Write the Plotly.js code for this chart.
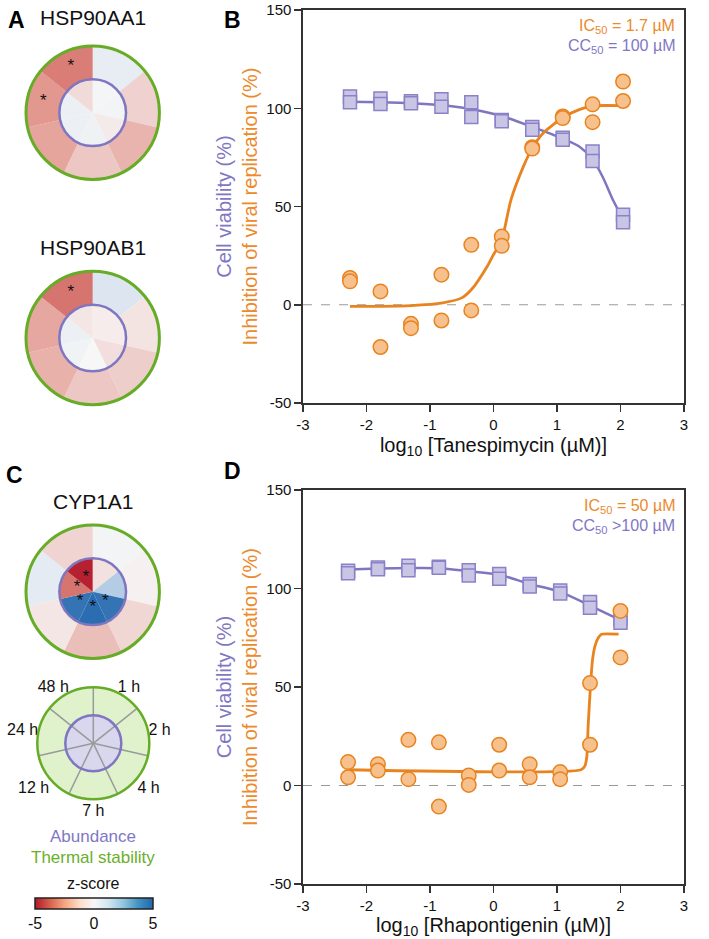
<!DOCTYPE html>
<html><head><meta charset="utf-8">
<script src="https://cdn.plot.ly/plotly-3.0.1.min.js"></script>
<style>html,body{margin:0;padding:0;background:#fff}#chart{width:709px;height:939px}</style>
</head><body><div id="chart"></div>
<script>
// ---------- DATA ----------
const timepoints = ['1 h','2 h','4 h','7 h','12 h','24 h','48 h'];

const hsp90aa1Thermal   = [0.45, -0.85, -1.55, -1.1, -1.9, -2.2, -2.8];
const hsp90aa1Abundance = [0.1, 0.15, -0.3, 0.25, 0.3, 0.3, -0.65];
const hsp90aa1ThermalSig = ['24 h','48 h'];
const hsp90aa1AbundanceSig = [];

const hsp90ab1Thermal   = [0.75, -0.45, -0.95, -1.1, -1.6, -1.85, -3.0];
const hsp90ab1Abundance = [-0.25, -0.25, -0.55, 0.0, 0.2, 0.3, -0.4];
const hsp90ab1ThermalSig = ['48 h'];
const hsp90ab1AbundanceSig = [];

const cyp1a1Thermal   = [0.15, -0.15, -0.75, -1.3, -0.4, 0.55, -0.8];
const cyp1a1Abundance = [-0.5, 1.9, 4.6, 4.8, 4.6, -3.0, -4.8];
const cyp1a1ThermalSig = [];
const cyp1a1AbundanceSig = ['4 h','7 h','12 h','24 h','48 h'];

const zScoreTicks = [-5, 0, 5];
const zScoreTickLabels = ['-5', '0', '5'];

// Panel B: Tanespimycin
const tanLogConc = [-2.26, -1.78, -1.30, -0.82, -0.35, 0.13, 0.61, 1.09, 1.56, 2.04];
const tanViabilityRep1 = [106, 105, 103.5, 104.6, 103, 94, 90.5, 85, 78, 45.8];
const tanViabilityRep2 = [103, 102.2, 102.5, 100.8, 95.5, 93.4, 89, 84, 73.2, 42];
const tanInhibitionRep1 = [13.6, 6.8, -9.7, 15.3, 30.5, 34.7, 80.2, 95.8, 102, 113.6];
const tanInhibitionRep2 = [11.9, -21.5, -11.9, -8.0, -2.9, 30.0, 79.5, 95.0, 92.9, 103.7];
const tanViabilityFitX = [-2.26, -1.78, -1.30, -0.82, -0.35, 0.13, 0.61, 1.09, 1.35, 1.56, 1.72, 1.88, 2.04];
const tanViabilityFitY = [103.3, 103.0, 102.5, 101.5, 99.5, 96, 90.5, 84.5, 80.5, 74, 65, 53.4, 43.5];
const tanInhibitionFitX = [-2.26, -1.8, -1.3, -0.8, -0.5, -0.34, -0.1, 0.0, 0.13, 0.275, 0.47, 0.61, 0.78, 1.10, 1.35, 1.57, 2.04];
const tanInhibitionFitY = [-0.8, -0.8, -0.4, 1.0, 3.5, 8, 19.5, 25.5, 33, 53.4, 70.3, 79.7, 87.3, 95.4, 99.3, 101.2, 101.3];

// Panel D: Rhapontigenin
const rhaLogConc = [-2.29, -1.82, -1.34, -0.86, -0.39, 0.09, 0.57, 1.05, 1.52, 2.00];
const rhaViabilityRep1 = [109, 110.6, 111.6, 111, 109.3, 107.4, 102.3, 99, 93.1, 84.6];
const rhaViabilityRep2 = [107.8, 109.8, 109.3, 110.5, 106.6, 104.9, 101, 97.5, 90.2, 82.6];
const rhaInhibitionRep1 = [11.9, 10.8, 23.2, 21.9, 5.1, 20.7, 10.8, 6.8, 52, 88.6];
const rhaInhibitionRep2 = [4.2, 7.6, 3.2, -10.7, 0.3, 7.6, 4.2, 3.2, 20.7, 65];
const rhaViabilityFitX = [-2.29, -1.82, -1.34, -0.86, -0.39, 0.09, 0.57, 1.05, 1.52, 2.00];
const rhaViabilityFitY = [109.6, 110.1, 110.4, 110.3, 108.8, 107, 102.3, 98.3, 91.3, 84];
const rhaInhibitionFitX = [-2.29, 1.38, 1.44, 1.47, 1.49, 1.53, 1.56, 1.60, 1.65, 1.70, 1.97];
const rhaInhibitionFitY = [8, 8, 10, 14.7, 30, 52, 64, 71, 75, 76.8, 76.8];

const xTicks = [-3, -2, -1, 0, 1, 2, 3];
const xTickLabels = ['-3', '-2', '-1', '0', '1', '2', '3'];
const yTicks = [-50, 0, 50, 100, 150];
const yTickLabels = ['-50', '0', '50', '100', '150'];

// ---------- STYLE ----------
const W = 709, H = 939;
const FONT = 'Liberation Sans, Arial, Helvetica, sans-serif';
const ORANGE = '#E8831F', ORANGE_FILL = '#F6C18C', ORANGE_TXT = '#EC8A2C';
const PURPLE = '#7F76C2', PURPLE_FILL = '#C9C5E4', PURPLE_LINE = '#8A81C8', PURPLE_TXT = '#7F77C4';
const GREEN = '#66AC26', GREEN_TXT = '#6AAF2C';
const RDBU = [[0,'#b2182b'],[0.125,'#d6604d'],[0.25,'#f4a582'],[0.375,'#fddbc7'],[0.5,'#f7f7f7'],
              [0.625,'#d1e5f0'],[0.75,'#92c5de'],[0.875,'#4393c3'],[1,'#2166ac']];
const DONUT_SCALE = [[0,'#b2182b'],[0.25,'#df8b80'],[0.5,'#f7f7f7'],[0.75,'#9fc0df'],[1,'#2166ac']];
const px = x => x / W;
const py = y => 1 - y / H;

const traces = [];
const layout = {
  width: W, height: H, margin: {l:0, r:0, t:0, b:0},
  paper_bgcolor: '#fff', plot_bgcolor: '#fff',
  font: {family: FONT, color: '#111', size: 15},
  showlegend: false, annotations: [], shapes: []
};

// ---------- DONUTS ----------
function domainFor(cx, cy, r) {
  return {x: [px(cx - r), px(cx + r)], y: [py(cy + r), py(cy - r)]};
}
const angCat = {type: 'category', categoryorder: 'array', categoryarray: timepoints,
  rotation: 90 - 180 / timepoints.length, direction: 'clockwise'};

function addDonut(baseId, ovId, cx, cy, r, thermal, abundance, thermalSig, abundanceSig) {
  const dom = domainFor(cx, cy, r);
  layout[baseId] = {
    domain: dom, bgcolor: '#fff', bargap: 0,
    radialaxis: {range: [0, 1], visible: false},
    angularaxis: Object.assign({}, angCat, {showgrid: false, showticklabels: false, ticks: '',
      showline: true, linecolor: GREEN, linewidth: 3})
  };
  layout[ovId] = {
    domain: dom, bgcolor: 'rgba(0,0,0,0)', bargap: 0,
    radialaxis: {range: [0, 1], tickvals: [0.5], showgrid: true, gridcolor: PURPLE, gridwidth: 2.5,
      showline: false, showticklabels: false, ticks: ''},
    angularaxis: Object.assign({}, angCat, {showgrid: false, showticklabels: false, ticks: '', showline: false})
  };
  const mk = vals => ({color: vals, colorscale: DONUT_SCALE, cmin: -5, cmax: 5, line: {width: 0}});
  traces.push({type: 'barpolar', subplot: baseId, theta: timepoints, r: timepoints.map(() => 0.5),
    base: timepoints.map(() => 0.5), marker: mk(thermal), hoverinfo: 'skip'});
  traces.push({type: 'barpolar', subplot: baseId, theta: timepoints, r: timepoints.map(() => 0.5),
    base: timepoints.map(() => 0), marker: mk(abundance), hoverinfo: 'skip'});
  // significance stars
  const starTheta = thermalSig.concat(abundanceSig);
  const starR = thermalSig.map(() => 0.76).concat(abundanceSig.map(() => 0.24));
  traces.push({type: 'scatterpolar', subplot: ovId, mode: 'text', theta: starTheta,
    r: starR, text: starTheta.map(() => '*'),
    textfont: {size: 17, color: '#111'}, textposition: 'middle center', cliponaxis: false, hoverinfo: 'skip'});
}

addDonut('polar', 'polar2', 92.7, 112.7, 66.7, hsp90aa1Thermal, hsp90aa1Abundance, hsp90aa1ThermalSig, hsp90aa1AbundanceSig);
addDonut('polar3', 'polar4', 92.7, 338.0, 66.7, hsp90ab1Thermal, hsp90ab1Abundance, hsp90ab1ThermalSig, hsp90ab1AbundanceSig);
addDonut('polar5', 'polar6', 92.7, 591.7, 66.7, cyp1a1Thermal, cyp1a1Abundance, cyp1a1ThermalSig, cyp1a1AbundanceSig);

// ---------- KEY DIAGRAM ----------
const keyDom = domainFor(93.3, 743.3, 56);
layout.polar7 = {
  domain: keyDom, bgcolor: '#DFF2CC', bargap: 0,
  radialaxis: {range: [0, 1], visible: false},
  angularaxis: Object.assign({}, angCat, {showgrid: false, showline: false, ticks: '', showticklabels: true,
    tickfont: {size: 16, color: '#111'}})
};
layout.polar8 = {
  domain: keyDom, bgcolor: 'rgba(0,0,0,0)',
  radialaxis: {range: [0, 1], tickvals: [0.5], showgrid: true, gridcolor: PURPLE, gridwidth: 2.5,
    showline: false, showticklabels: false, ticks: ''},
  angularaxis: {type: 'linear', rotation: 90, direction: 'clockwise', tickmode: 'linear', tick0: 0,
    dtick: 360 / timepoints.length, showgrid: true, gridcolor: '#9a9a9a', gridwidth: 1.5,
    showticklabels: false, ticks: '', showline: true, linecolor: GREEN, linewidth: 2.5}
};
traces.push({type: 'barpolar', subplot: 'polar7', theta: timepoints, r: timepoints.map(() => 0.5),
  marker: {color: '#D8D7EE', line: {width: 0}}, hoverinfo: 'skip'});
// carrier of the z-score colour bar (invisible marker)
traces.push({type: 'scatterpolar', subplot: 'polar8', mode: 'markers', r: [0], theta: [0],
  marker: {opacity: 0, size: 1, color: [0], colorscale: RDBU, cmin: -5, cmax: 5, showscale: true,
    colorbar: {orientation: 'h', x: px(94), xanchor: 'center', y: py(897.5), yanchor: 'top',
      lenmode: 'pixels', len: 118, thicknessmode: 'pixels', thickness: 11,
      xpad: 0, ypad: 0, outlinewidth: 1.5, outlinecolor: '#222', ticks: '',
      tickmode: 'array', tickvals: zScoreTicks, ticktext: zScoreTickLabels,
      tickfont: {size: 16, color: '#111'}, ticklabelposition: 'outside bottom'}},
  hoverinfo: 'skip'});

// ---------- DOSE RESPONSE ----------
function addDose(xa, ya, logc, v1, v2, i1, i2, vfx, vfy, ifx, ify) {
  traces.push({type: 'scatter', xaxis: xa, yaxis: ya, x: vfx, y: vfy, mode: 'lines',
    line: {color: PURPLE, width: 2.5, shape: 'spline', smoothing: 0.8}, hoverinfo: 'skip'});
  [v1, v2].forEach(v => traces.push({type: 'scatter', xaxis: xa, yaxis: ya, x: logc, y: v, mode: 'markers',
    marker: {symbol: 'square', size: 13, color: PURPLE_FILL, line: {color: PURPLE_LINE, width: 1.5}}, hoverinfo: 'skip'}));
  traces.push({type: 'scatter', xaxis: xa, yaxis: ya, x: ifx, y: ify, mode: 'lines',
    line: {color: ORANGE, width: 2.8, shape: 'spline', smoothing: 0.6}, hoverinfo: 'skip'});
  [i1, i2].forEach(v => traces.push({type: 'scatter', xaxis: xa, yaxis: ya, x: logc, y: v, mode: 'markers',
    marker: {symbol: 'circle', size: 14.5, color: ORANGE_FILL, line: {color: ORANGE, width: 1.5}}, hoverinfo: 'skip'}));
}
addDose('x', 'y', tanLogConc, tanViabilityRep1, tanViabilityRep2, tanInhibitionRep1, tanInhibitionRep2,
  tanViabilityFitX, tanViabilityFitY, tanInhibitionFitX, tanInhibitionFitY);
addDose('x2', 'y2', rhaLogConc, rhaViabilityRep1, rhaViabilityRep2, rhaInhibitionRep1, rhaInhibitionRep2,
  rhaViabilityFitX, rhaViabilityFitY, rhaInhibitionFitX, rhaInhibitionFitY);

const yTitle = `<span style="color:${PURPLE_TXT}">Cell viability (%)</span><br><span style="color:${ORANGE_TXT}">Inhibition of viral replication (%)</span>`;
function xAxis(anchor, title) {
  return {domain: [px(303), px(684)], anchor: anchor, range: [-3, 3], tickmode: 'array', tickvals: xTicks, ticktext: xTickLabels,
    ticks: 'outside', ticklen: 7, tickwidth: 1.5, tickcolor: '#333', showline: true, linecolor: '#333', linewidth: 1.6, mirror: true,
    showgrid: false, zeroline: false, tickfont: {size: 15, color: '#111'},
    title: {text: title, font: {size: 20, color: '#111'}, standoff: 6}};
}
function yAxis(anchor, top, bottom) {
  return {domain: [py(bottom), py(top)], anchor: anchor, range: [-50, 150], tickmode: 'array', tickvals: yTicks, ticktext: yTickLabels,
    ticks: 'outside', ticklen: 7, tickwidth: 1.5, tickcolor: '#333', showline: true, linecolor: '#333', linewidth: 1.6, mirror: true,
    showgrid: false, zeroline: false, tickfont: {size: 15, color: '#111'},
    title: {text: yTitle, font: {size: 20}, standoff: 3}};
}
layout.xaxis = xAxis('y', 'log<sub>10</sub> [Tanespimycin (µM)]');
layout.yaxis = yAxis('x', 10, 403);
layout.xaxis2 = xAxis('y2', 'log<sub>10</sub> [Rhapontigenin (µM)]');
layout.yaxis2 = yAxis('x2', 490, 884);

['y', 'y2'].forEach(ya => layout.shapes.push({type: 'line', xref: ya === 'y' ? 'x domain' : 'x2 domain',
  x0: 0, x1: 1, yref: ya, y0: 0, y1: 0, layer: 'below', line: {color: '#9a9a9a', width: 1.2, dash: 'dash'}}));

function potency(xa, ya, ic, cc) {
  layout.annotations.push({xref: xa + ' domain', yref: ya + ' domain', x: 1, y: 1, xanchor: 'right', yanchor: 'middle',
    xshift: -7, yshift: -16.7, text: ic, showarrow: false, font: {size: 16, color: ORANGE_TXT}});
  layout.annotations.push({xref: xa + ' domain', yref: ya + ' domain', x: 1, y: 1, xanchor: 'right', yanchor: 'middle',
    xshift: -7, yshift: -36.7, text: cc, showarrow: false, font: {size: 16, color: PURPLE_TXT}});
}
potency('x', 'y', 'IC<sub>50</sub> = 1.7 µM', 'CC<sub>50</sub> = 100 µM');
potency('x2', 'y2', 'IC<sub>50</sub> = 50 µM', 'CC<sub>50</sub> >100 µM');

// ---------- TEXT LABELS ----------
function label(x, y, text, size, color, bold) {
  layout.annotations.push({xref: 'paper', yref: 'paper', x: px(x), y: py(y), xanchor: 'center', yanchor: 'middle',
    text: bold ? '<b>' + text + '</b>' : text, showarrow: false, font: {size: size, color: color, family: FONT}});
}
label(16, 20, 'A', 23, '#000', true);
label(232, 20, 'B', 23, '#000', true);
label(15, 475, 'C', 23, '#000', true);
label(232, 471, 'D', 23, '#000', true);
label(93, 17.5, 'HSP90AA1', 21, '#111');
label(93, 248, 'HSP90AB1', 21, '#111');
label(93, 501, 'CYP1A1', 21, '#111');
label(93, 836, 'Abundance', 17, PURPLE_TXT);
label(93, 857, 'Thermal stability', 17, GREEN_TXT);
label(94, 883, 'z-score', 16, '#111');

Plotly.newPlot('chart', traces, layout, {staticPlot: true, displayModeBar: false});
</script></body></html>
